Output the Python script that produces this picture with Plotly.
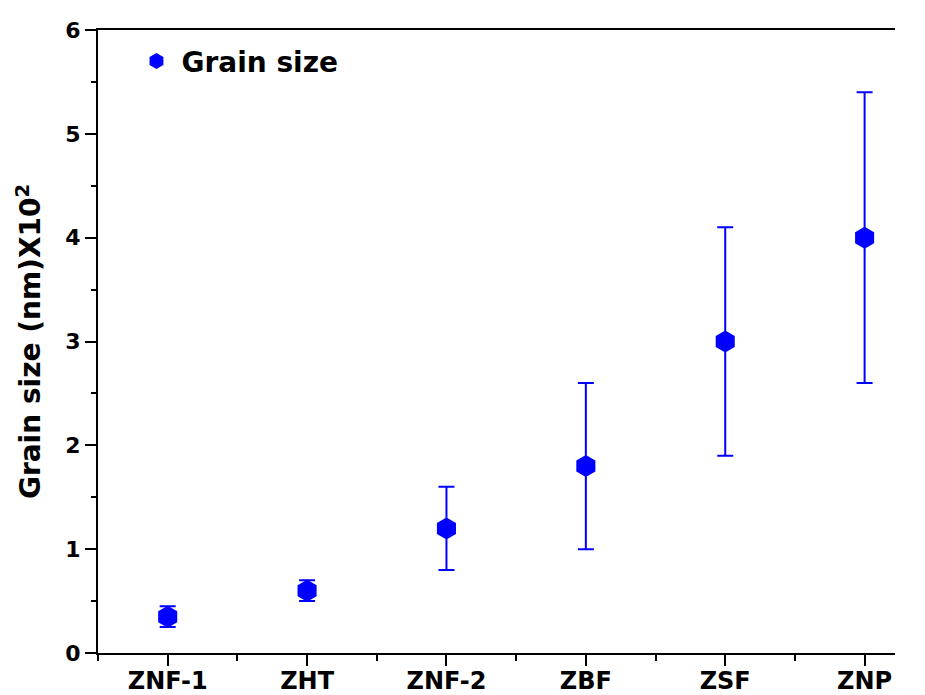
import plotly.graph_objects as go

# Sample names and measured grain sizes (units of 10^2 nm)
samples = ["ZNF-1", "ZHT", "ZNF-2", "ZBF", "ZSF", "ZNP"]
grain_size = [0.35, 0.6, 1.2, 1.8, 3.0, 4.0]
grain_err = [0.1, 0.1, 0.4, 0.8, 1.1, 1.4]

y_ticks = [0, 1, 2, 3, 4, 5, 6]

FONT = "DejaVu Sans"
BLUE = "#0000FF"

positions = list(range(len(samples)))
x_range = [-0.5, 5.218]

fig = go.Figure()
fig.add_trace(go.Scatter(
    x=positions,
    y=grain_size,
    mode="markers",
    name="Grain size",
    marker=dict(symbol="hexagon", size=22, color=BLUE, line=dict(width=0)),
    error_y=dict(type="data", array=grain_err, visible=True,
                 color=BLUE, thickness=2, width=8),
))

fig.update_layout(
    width=925, height=695,
    margin=dict(l=98, r=30, t=30, b=42),
    paper_bgcolor="white",
    plot_bgcolor="white",
    showlegend=True,
    legend=dict(
        x=0.042, y=0.99, xanchor="left", yanchor="top",
        itemwidth=40,
        bgcolor="rgba(0,0,0,0)",
        font=dict(family=FONT, size=28, color="black", weight="bold"),
    ),
    xaxis=dict(
        range=x_range,
        tickmode="array", tickvals=positions, ticktext=samples,
        ticks="outside", ticklen=11, tickwidth=2, tickcolor="black",
        minor=dict(tick0=0.5, dtick=1, ticks="outside", ticklen=6,
                   tickwidth=2, tickcolor="black", showgrid=False),
        # mirrored line gives the top frame edge (no ticks there)
        showline=True, linewidth=2, linecolor="black", mirror=True,
        showgrid=False, zeroline=False, automargin=False,
        ticklabelstandoff=-6,
        tickfont=dict(family=FONT, size=24, color="black", weight="bold"),
    ),
    yaxis=dict(
        range=[0, 6],
        tickmode="array", tickvals=y_ticks,
        ticks="outside", ticklen=11, tickwidth=2, tickcolor="black",
        minor=dict(tick0=0.5, dtick=1, ticks="outside", ticklen=5,
                   tickwidth=2, tickcolor="black", showgrid=False),
        showline=True, linewidth=2, linecolor="black", mirror=False,
        showgrid=False, zeroline=False, automargin=False,
        tickfont=dict(family=FONT, size=22, color="black", weight="bold"),
        title=dict(text="Grain size (nm)X10<sup>2</sup>", standoff=16,
                   font=dict(family=FONT, size=28, color="black", weight="bold")),
    ),
)

fig.write_html(
    "out.html",
    config={"displayModeBar": False, "staticPlot": True},
    post_script=(
        "document.documentElement.style.overflow='hidden';"
        "document.body.style.margin='0';document.body.style.overflow='hidden';"
    ),
)
